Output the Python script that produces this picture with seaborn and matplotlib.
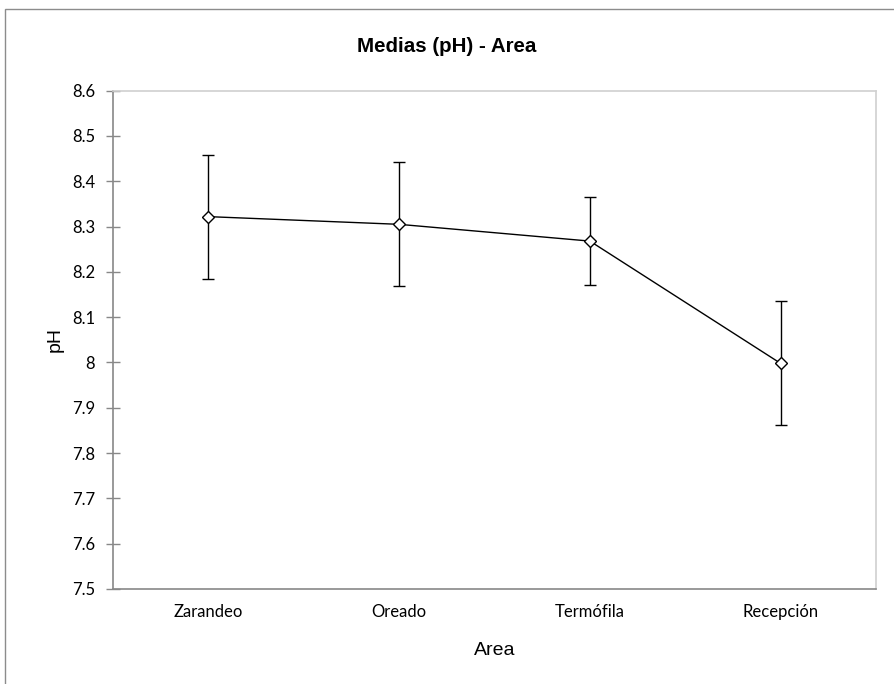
import numpy as np
import seaborn as sns
import matplotlib.pyplot as plt
from matplotlib.patches import Rectangle

# Data
areas = ['Zarandeo', 'Oreado', 'Termófila', 'Recepción']
medias = [8.322, 8.305, 8.268, 7.998]
errores = [0.137, 0.137, 0.097, 0.137]
y_ticks = [7.5, 7.6, 7.7, 7.8, 7.9, 8.0, 8.1, 8.2, 8.3, 8.4, 8.5, 8.6]

sns.set_style('white')
plt.rcParams['font.family'] = ['Liberation Sans', 'DejaVu Sans']
plt.rcParams['text.color'] = 'black'
plt.rcParams['axes.labelcolor'] = 'black'
plt.rcParams['xtick.color'] = 'black'
plt.rcParams['ytick.color'] = 'black'

fig = plt.figure(figsize=(8.94, 6.84), dpi=100)
ax = fig.add_axes([0.1264, 0.1389, 0.8535, 0.7285])

# Outer chart border (Excel style)
fig.patches.append(Rectangle((5 / 894, -0.1), 1.2, 1.1 - 9 / 684, transform=fig.transFigure,
                             fill=False, edgecolor='#8c8c8c', linewidth=1.0))

x = np.arange(len(areas))
ax.errorbar(x, medias, yerr=errores, fmt='none', ecolor='black',
            elinewidth=1.0, capsize=4.3, capthick=1.0, zorder=2)
sns.lineplot(x=x, y=medias, ax=ax, color='black', linewidth=1.0, marker='D',
             markersize=6.5, markerfacecolor='white', markeredgecolor='black',
             markeredgewidth=1.0, zorder=3)

ax.set_xlim(-0.5, len(areas) - 0.5)
ax.set_ylim(7.5, 8.6)
ax.set_yticks(y_ticks)
ax.set_yticklabels(['%g' % v for v in y_ticks], family=['Lato', 'DejaVu Sans'], fontsize=12)

# Category boundary ticks (crossing) and label positions
ax.set_xticks(np.arange(-0.5, len(areas)), minor=False)
ax.set_xticklabels([])
ax.set_xticks(x, minor=True)
ax.set_xticklabels(areas, minor=True, family=['Lato', 'DejaVu Sans'], fontsize=12)
ax.tick_params(axis='x', which='major', direction='inout', length=10, width=1, color='#888888')
ax.tick_params(axis='x', which='minor', length=0, pad=11)
ax.tick_params(axis='y', direction='inout', length=10, width=1, color='#888888', pad=8, left=True)

for side in ['left', 'bottom']:
    ax.spines[side].set_color('#888888')
    ax.spines[side].set_linewidth(1.2)
for side in ['top', 'right']:
    ax.spines[side].set_color('#d0d0d0')
    ax.spines[side].set_linewidth(1.2)

ax.set_xlabel('Area', fontsize=14, labelpad=16)
ax.set_ylabel('pH', fontsize=14, labelpad=6)
fig.text(0.5, 1 - 46 / 684, 'Medias (pH) - Area', ha='center', va='center',
         fontsize=14.8, fontweight='bold')

fig.savefig('out.png', dpi=100)
